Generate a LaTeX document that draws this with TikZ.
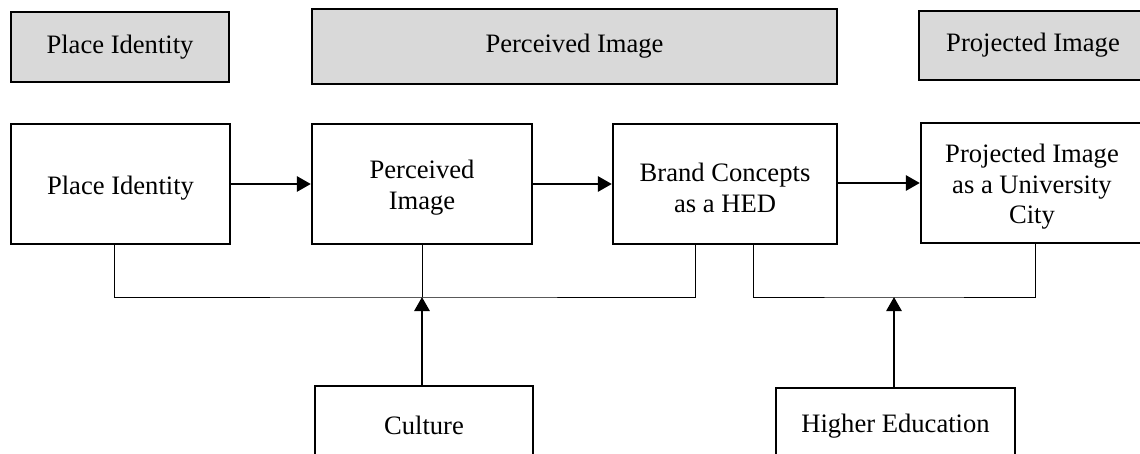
\documentclass[tikz,border=0pt]{standalone}
\usepackage{fontspec}
\setmainfont{Liberation Serif}
\usetikzlibrary{arrows.meta}
\definecolor{headgray}{HTML}{D9D9D9}
% strut that lowers the text block a little inside the stage boxes
\newcommand{\tallstrut}{\rule{0pt}{26pt}}
\tikzset{
  every node/.style={font=\fontsize{26.6}{30.5}\selectfont},
  head/.style={draw, line width=2.3pt, fill=headgray, rectangle, inner sep=0pt, align=center},
  stage/.style={draw, line width=2.3pt, fill=white, rectangle, inner sep=0pt, align=center},
  flow/.style={line width=2.8pt, -{Triangle[length=14pt,width=15pt]}},
  link/.style={line width=1pt},
}
\begin{document}
\begin{tikzpicture}[x=1pt,y=-1pt]
\useasboundingbox (0,0) rectangle (1140,454);
\clip (0,0) rectangle (1140,454);
% header bands
\node[head, minimum width=218pt, minimum height=70pt] (h1) at (120,47) {Place Identity};
\node[head, minimum width=525pt, minimum height=75pt] (h2) at (574.5,46.5) {Perceived Image};
\node[head, minimum width=228pt, minimum height=69pt] (h3) at (1033,45.5) {Projected Image};
% main stages
\node[stage, minimum width=219pt, minimum height=120pt] (pid) at (120.5,184) {\tallstrut Place Identity};
\node[stage, minimum width=220pt, minimum height=120pt] (pim) at (422,184) {\tallstrut Perceived\\Image};
\node[stage, minimum width=224pt, minimum height=120pt] (brd) at (725,184) {\tallstrut Brand Concepts\\as a HED};
\node[stage, minimum width=222pt, minimum height=120pt] (prj) at (1032,183) {\tallstrut Projected Image\\as a University\\City};
% influencing factors
\node[stage, minimum width=218pt, minimum height=78pt] (cul) at (424,425) {Culture};
\node[stage, minimum width=239pt, minimum height=76pt] (hed) at (895.5,426) {Higher Education};
% junction points
\coordinate (j1) at (422,297);
\coordinate (j2) at (894,297);
% sequence arrows
\draw[flow] (pid.east) -- (pim.west);
\draw[flow] (pim.east) -- (brd.west);
\draw[flow] (prj.west -| brd.east) -- (prj.west);
% bracket lines
\draw[link] ([xshift=-6.5pt]pid.south) |- (j1) -| ([xshift=-30pt]brd.south);
\draw[link] (pim.south) -- (j1);
\draw[link] ([xshift=28pt]brd.south) |- (j2) -| ([xshift=3pt]prj.south);
% factor arrows
\draw[flow] (j1 |- cul.north) -- (j1);
\draw[flow] (j2 |- hed.north) -- (j2);
\end{tikzpicture}
\end{document}
